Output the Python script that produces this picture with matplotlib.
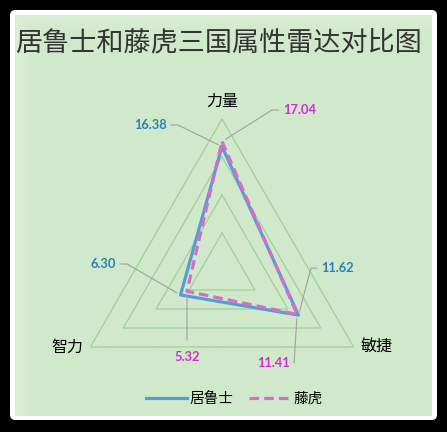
import numpy as np
import matplotlib.pyplot as plt
from matplotlib.patches import FancyBboxPatch

plt.rcParams['font.family'] = ['Noto Sans CJK SC', 'DejaVu Sans']

categories = ['力量', '敏捷', '智力']
names = ['居鲁士', '藤虎']
cyrus = [16.38, 11.62, 6.30]
fujitora = [17.04, 11.41, 5.32]
levels = [5, 10, 15, 20]

W, H = 447, 432
fig = plt.figure(figsize=(W / 100, H / 100), dpi=100, facecolor='black')

# rounded white rim
fig.patches.append(FancyBboxPatch((10 / W, 12 / H), 427 / W, 410 / H,
                                  boxstyle='round,pad=0,rounding_size=0.012',
                                  transform=fig.transFigure, fc='white', ec='none',
                                  zorder=-10))

# green panel with a soft lighter left/top edge
bg = fig.add_axes([15 / W, 16 / H, 417 / W, 401 / H], zorder=-5)
bg.axis('off')
gx = np.linspace(0, 1, 200)
gy = np.linspace(0, 1, 200)
lx = np.clip(1 - gx / 0.05, 0, 1)[None, :]
ly = np.clip(1 - gy / 0.05, 0, 1)[:, None]
light = np.maximum(lx * 0.22, ly * 0.18)
base = np.array([0xd1, 0xe9, 0xcb]) / 255
img = base[None, None, :] + (1 - base[None, None, :]) * light[:, :, None]
bg.imshow(img, aspect='auto', extent=(0, 1, 0, 1), origin='upper')

fig.text(219 / W, 1 - 43 / H, '居鲁士和藤虎三国属性雷达对比图', ha='center', va='center',
         fontsize=19.5, color='#333333', fontweight='light')

ax = fig.add_axes([70 / W, (161 - 152) / H, 304 / W, 304 / H], projection='polar')
ax.set_theta_offset(np.pi / 2)
ax.set_theta_direction(-1)
ax.set_facecolor('none')
ax.set_ylim(0, 20)
ax.grid(False)
ax.spines['polar'].set_visible(False)
ax.set_yticks([])
ax.set_xticks([])

theta = np.linspace(0, 2 * np.pi, len(categories), endpoint=False)
tc = np.append(theta, theta[0])

for lv in levels:
    ax.plot(tc, [lv] * len(tc), color='#9fd197', lw=0.9, zorder=1)

ax.plot(tc, cyrus + cyrus[:1], color='#5b9bd5', lw=2.3, label=names[0], zorder=3)
ax.plot(tc, fujitora + fujitora[:1], color='#d36fc6', lw=2.3, ls=(0, (3, 1.6)),
        label=names[1], zorder=4)

# category labels
cat_off = [(0, 18), (23, 0), (-23, 0)]
for t, c, (dx, dy) in zip(theta, categories, cat_off):
    ax.annotate(c, xy=(t, 20), xytext=(dx, dy), textcoords='offset pixels',
                ha='center', va='center', fontsize=11.5, color='black',
                annotation_clip=False)

# value labels with leader lines: (offset px, horizontal stub px)
blue_lab = [(-55, 21.5, 11), (22.5, 47, 10), (-64.5, 31, 11)]
pink_lab = [(61, 31.5, 11), (-7, -49, 4), (0, -66, 0)]


def callout(t, v, dx, dy, h, color):
    if h == 0:
        ax.annotate(f'{v:.2f}', xy=(t, v), xytext=(dx, dy), textcoords='offset pixels',
                    ha='center', va='center', fontsize=9.3, fontweight='bold',
                    family='Lato', color=color, annotation_clip=False,
                    arrowprops=dict(arrowstyle='-', color='#a0a0a0', lw=0.8,
                                    relpos=(0.5, 1), shrinkA=6, shrinkB=2))
        return
    s = -1 if dx > 0 else 1
    angB = np.degrees(np.arctan2(dy, dx + s * h))
    ax.annotate(f'{v:.2f}', xy=(t, v), xytext=(dx, dy), textcoords='offset pixels',
                ha='left' if dx > 0 else 'right', va='center', fontsize=9.3,
                fontweight='bold', family='Lato', color=color, annotation_clip=False,
                arrowprops=dict(arrowstyle='-', color='#a0a0a0', lw=0.8,
                                relpos=(0 if dx > 0 else 1, 0.5), shrinkA=1, shrinkB=3,
                                connectionstyle=f'angle,angleA=0,angleB={angB},rad=0'))


for t, v, (dx, dy, h) in zip(theta, cyrus, blue_lab):
    callout(t, v, dx, dy, h, '#2c7fb8')
for t, v, (dx, dy, h) in zip(theta, fujitora, pink_lab):
    callout(t, v, dx, dy, h, '#d22fd2')

fig.legend(loc='center', bbox_to_anchor=(234 / W, 1 - 399 / H), ncol=2, frameon=False,
           fontsize=10.5, handlelength=2.8, handletextpad=0.2, columnspacing=1.1)

fig.savefig('out.png', dpi=100, facecolor='black')
